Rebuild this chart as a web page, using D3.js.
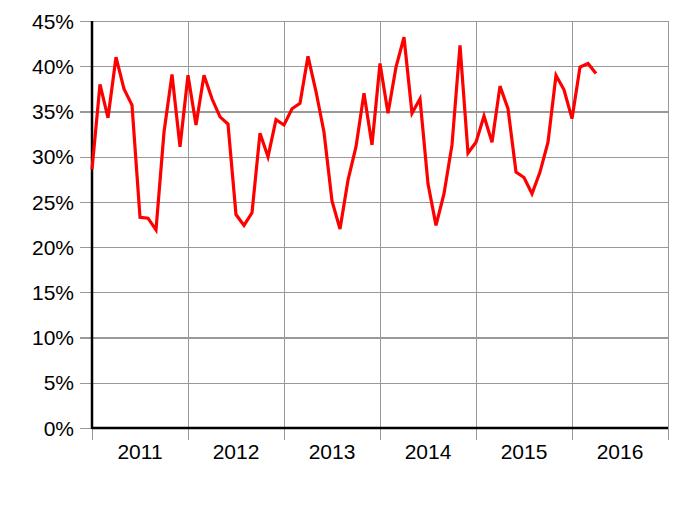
<!DOCTYPE html>
<html>
<head>
<meta charset="utf-8">
<script src="https://cdn.jsdelivr.net/npm/d3@7"></script>
<style>
  html, body { margin: 0; padding: 0; background: #fff; }
  svg { display: block; }
  text { font-family: "Liberation Sans", Arial, Helvetica, sans-serif; }
</style>
</head>
<body>
<svg id="chart" width="685" height="512"></svg>
<script>
const years = ["2011", "2012", "2013", "2014", "2015", "2016"];
const yTicks = [0, 5, 10, 15, 20, 25, 30, 35, 40, 45];
// monthly share (%), Jan 2011 .. Apr 2016
const values = [
  28.6, 38.0, 34.3, 41.0, 37.5, 35.7, 23.3, 23.2, 21.9, 32.7, 39.1, 31.1,
  39.0, 33.5, 39.0, 36.4, 34.4, 33.6, 23.6, 22.4, 23.8, 32.6, 30.0, 34.1,
  33.5, 35.3, 35.9, 41.1, 37.2, 32.7, 25.1, 22.0, 27.4, 31.1, 37.0, 31.3,
  40.3, 34.8, 39.9, 43.2, 34.8, 36.4, 27.0, 22.4, 25.9, 31.3, 42.3, 30.4,
  31.6, 34.5, 31.6, 37.8, 35.3, 28.3, 27.7, 25.9, 28.3, 31.6, 39.0, 37.4,
  34.2, 39.9, 40.3, 39.2
];

const svg = d3.select("#chart");
const mL = 92, mR = 668, mT = 21, mB = 428;

const x = d3.scaleLinear().domain([0, years.length * 12]).range([mL, mR]);
const y = d3.scaleLinear().domain([0, 45]).range([mB, mT]);

const grid = "#999";

// horizontal gridlines + left ticks
const yAxis = d3.axisLeft(y).tickValues(yTicks).tickSize(mR - mL + 12)
  .tickFormat(d => d + "%").tickPadding(6);
const gy = svg.append("g").attr("transform", `translate(${mR},0)`).call(yAxis);
gy.select(".domain").remove();
gy.selectAll(".tick line").attr("stroke", grid).attr("stroke-width", 1.2)
  .attr("shape-rendering", "crispEdges");
gy.selectAll(".tick text").attr("font-size", 21).attr("fill", "#000")
  .attr("font-family", "'Liberation Sans', Arial, sans-serif")
  .attr("dy", "0.34em");

// vertical gridlines + bottom ticks at year boundaries
const xb = d3.range(0, years.length * 12 + 1, 12);
const xAxis = d3.axisBottom(x).tickValues(xb).tickSize(mB - mT + 12).tickFormat("");
const gx = svg.append("g").attr("transform", `translate(0,${mT})`).call(xAxis);
gx.select(".domain").remove();
gx.selectAll(".tick line").attr("stroke", grid).attr("stroke-width", 1.2)
  .attr("shape-rendering", "crispEdges");

// year labels
svg.append("g").selectAll("text").data(years).join("text")
  .attr("x", (d, i) => x(i * 12 + 6))
  .attr("y", 459)
  .attr("text-anchor", "middle")
  .attr("font-size", 21)
  .attr("fill", "#000")
  .text(d => d);

// axes lines (black)
svg.append("line").attr("x1", mL).attr("x2", mL).attr("y1", mT).attr("y2", mB + 1)
  .attr("stroke", "#000").attr("stroke-width", 2.5);
svg.append("line").attr("x1", mL).attr("x2", mR).attr("y1", mB).attr("y2", mB)
  .attr("stroke", "#000").attr("stroke-width", 2.5);

// data line
const line = d3.line().x((d, i) => x(i)).y(d => y(d));
svg.append("path").datum(values)
  .attr("fill", "none")
  .attr("stroke", "#ff0000")
  .attr("stroke-width", 3.2)
  .attr("stroke-linejoin", "miter")
  .attr("d", line);
</script>
</body>
</html>
